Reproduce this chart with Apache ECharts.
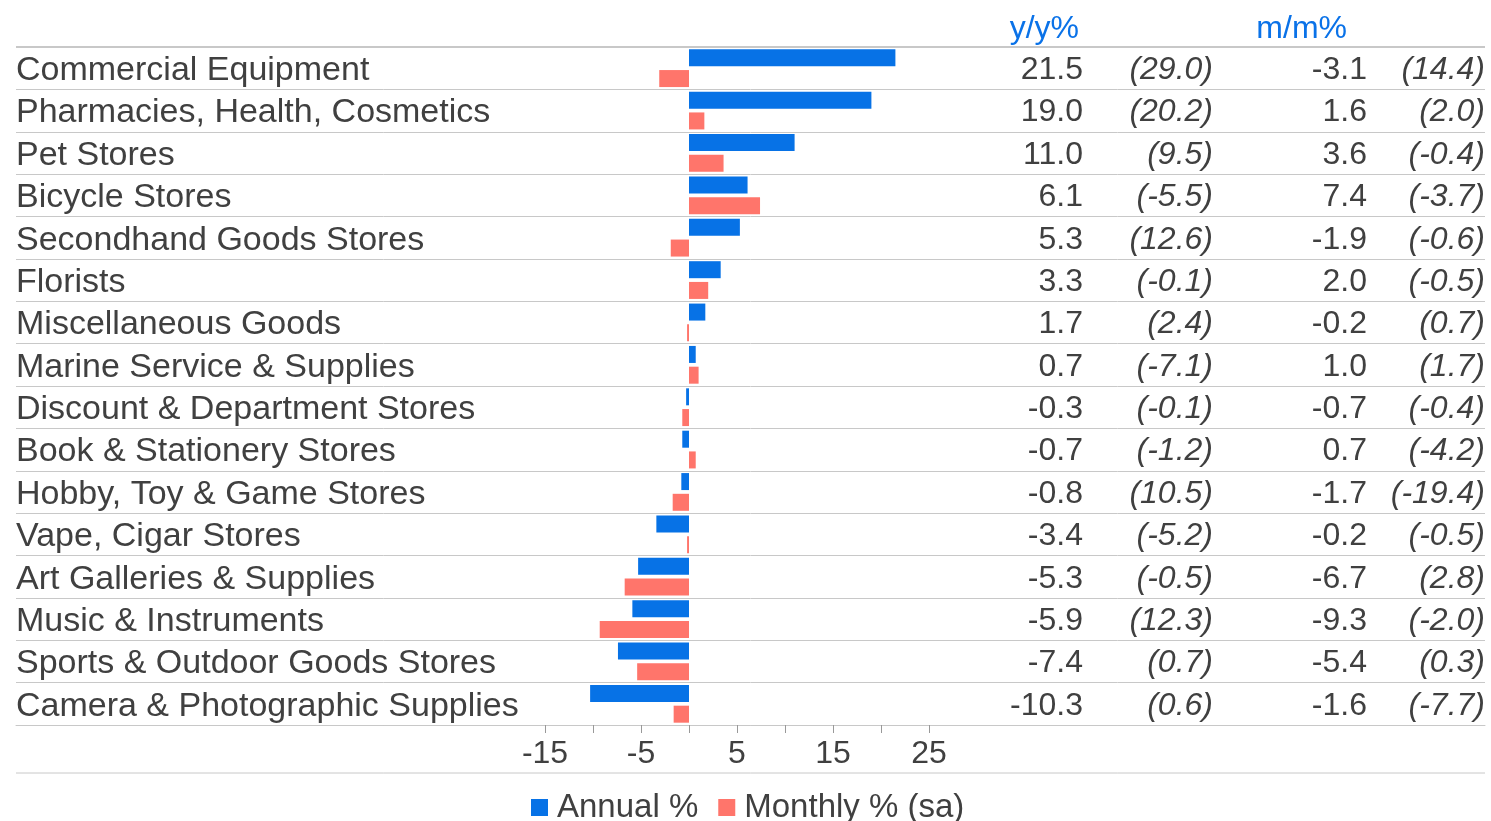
<!DOCTYPE html>
<html>
	<head>
		<meta charset="utf-8">
		<title></title>
		<script src="https://cdn.jsdelivr.net/npm/echarts@6/dist/echarts.min.js"></script>
		<style>
			body{margin:0;background:#fff;}
			.chart{width:1491px;height:821px;}
		</style>
	</head>
	<body>
		<div class="chart"></div>
		<script>
			var cats = ['Commercial Equipment', 'Pharmacies, Health, Cosmetics', 'Pet Stores', 'Bicycle Stores',
				'Secondhand Goods Stores', 'Florists', 'Miscellaneous Goods', 'Marine Service & Supplies',
				'Discount & Department Stores', 'Book & Stationery Stores', 'Hobby, Toy & Game Stores',
				'Vape, Cigar Stores', 'Art Galleries & Supplies', 'Music & Instruments',
				'Sports & Outdoor Goods Stores', 'Camera & Photographic Supplies'];
			var annual = [21.5, 19.0, 11.0, 6.1, 5.3, 3.3, 1.7, 0.7, -0.3, -0.7, -0.8, -3.4, -5.3, -5.9, -7.4, -10.3];
			var annualPrev = [29.0, 20.2, 9.5, -5.5, 12.6, -0.1, 2.4, -7.1, -0.1, -1.2, 10.5, -5.2, -0.5, 12.3, 0.7, 0.6];
			var monthly = [-3.1, 1.6, 3.6, 7.4, -1.9, 2.0, -0.2, 1.0, -0.7, 0.7, -1.7, -0.2, -6.7, -9.3, -5.4, -1.6];
			var monthlyPrev = [14.4, 2.0, -0.4, -3.7, -0.6, -0.5, 0.7, 1.7, -0.4, -4.2, -19.4, -0.5, 2.8, -2.0, 0.3, -7.7];

			var font = 'Liberation Sans, Arial, sans-serif';
			var txt = '#404040';
			var sep = '#c8c8c8';

			function f1(v){ return v.toFixed(1); }

			var chart = echarts.init(document.querySelector('.chart'));
			chart.setOption({
				animation: false,
				textStyle: {fontFamily: font},
				grid: [
					{left: 545, width: 384, top: 47, height: 678},
					{left: 16, right: 6, top: 47, height: 678}
				],
				legend: {
					top: 786,
					left: 526,
					icon: 'rect',
					itemWidth: 17,
					itemHeight: 17,
					itemGap: 20,
					textStyle: {fontSize: 33, color: txt, fontFamily: font, padding: [0, 0, 0, 4]},
					data: ['Annual %', 'Monthly % (sa)']
				},
				xAxis: [
					{
						gridIndex: 0, type: 'value', min: -15, max: 25, interval: 5,
						axisLine: {show: false},
						axisTick: {show: true, length: 8, lineStyle: {color: '#999'}},
						splitLine: {show: false},
						axisLabel: {
							fontSize: 32, color: txt, margin: 13, fontFamily: font,
							formatter: function(v){ return Math.abs(v % 10) === 5 ? String(v) : ''; }
						}
					},
					{
						gridIndex: 1, type: 'value', min: 0, max: 1,
						axisLine: {show: true, lineStyle: {color: sep}},
						axisTick: {show: false}, axisLabel: {show: false}, splitLine: {show: false}
					}
				],
				yAxis: [
					{
						gridIndex: 0, type: 'category', data: cats, inverse: true,
						axisLine: {show: false}, axisTick: {show: false}, axisLabel: {show: false}
					},
					{
						gridIndex: 1, type: 'category', data: cats, inverse: true,
						axisLine: {show: false}, axisTick: {show: false, interval: 0},
						splitLine: {show: true, interval: 0, lineStyle: {color: sep}},
						axisLabel: {
							inside: true, interval: 0, margin: 0, align: 'left',
							formatter: function(v){ return '{n|' + v + '}'; },
							rich: {n: {fontSize: 34, color: txt, fontFamily: font, padding: [5, 0, 0, 0]}}
						}
					},
					{
						gridIndex: 1, type: 'category', data: cats, inverse: true, position: 'right',
						axisLine: {show: false}, axisTick: {show: false},
						axisLabel: {
							inside: true, interval: 0, margin: 0, align: 'right', padding: [4, 0, 0, 0],
							formatter: function(v, i){
								return '{a|' + f1(annual[i]) + '}{b|(' + f1(annualPrev[i]) + ')}{c|' + f1(monthly[i]) + '}{d|(' + f1(monthlyPrev[i]) + ')}';
							},
							rich: {
								a: {width: 103, align: 'right', fontSize: 32, color: txt, fontFamily: font},
								b: {width: 130, align: 'right', fontSize: 32, color: txt, fontStyle: 'italic', fontFamily: font},
								c: {width: 154, align: 'right', fontSize: 32, color: txt, fontFamily: font},
								d: {width: 118, align: 'right', fontSize: 32, color: txt, fontStyle: 'italic', fontFamily: font}
							}
						}
					}
				],
				graphic: [
					{type: 'text', right: 1491 - 1079, top: 13, style: {text: 'y/y%', fill: '#0a72e8', font: '32px ' + font}},
					{type: 'text', right: 1491 - 1347, top: 13, style: {text: 'm/m%', fill: '#0a72e8', font: '32px ' + font}},
					{type: 'line', shape: {x1: 16, y1: 47, x2: 1485, y2: 47}, style: {stroke: sep, lineWidth: 2}},
					{type: 'line', shape: {x1: 16, y1: 773, x2: 1485, y2: 773}, style: {stroke: sep, lineWidth: 1}}
				],
				series: [
					{
						name: 'Annual %', type: 'bar', xAxisIndex: 0, yAxisIndex: 0,
						data: annual, barWidth: 17, barGap: '22%',
						itemStyle: {color: '#0772e6'}
					},
					{
						name: 'Monthly % (sa)', type: 'bar', xAxisIndex: 0, yAxisIndex: 0,
						data: monthly, barWidth: 17, barGap: '22%',
						itemStyle: {color: '#ff756b'}
					}
				]
			});
		</script>
	</body>
</html>
